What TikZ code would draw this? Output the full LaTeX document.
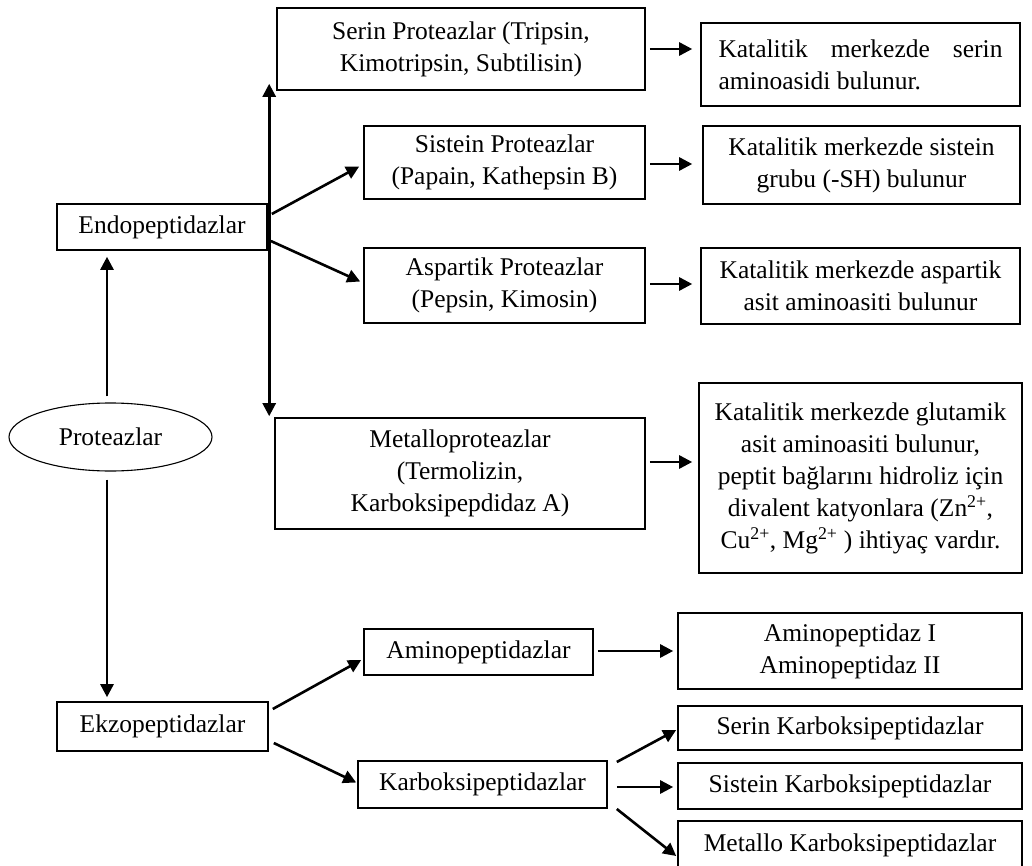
\documentclass[tikz,border=0pt]{standalone}
\usepackage{fontspec}
\setmainfont{Liberation Serif}
\usetikzlibrary{arrows.meta,calc,shapes.geometric}
\begin{document}
\begin{tikzpicture}[x=1pt,y=-1pt,
  box/.style={draw,line width=1.6pt,inner sep=0pt,align=center,
    font=\fontsize{25.5}{32}\selectfont},
  oval/.style={ellipse,draw,line width=1.1pt,inner sep=0pt,
    font=\fontsize{25.5}{32}\selectfont},
  arr/.style={line width=2.6pt,-{Triangle[length=13pt,width=13pt]}},
  darr/.style={line width=2.6pt,{Triangle[length=13pt,width=13pt]}-{Triangle[length=13pt,width=13pt]}}]
\useasboundingbox (0,0) rectangle (1032,866);
\clip (0,0) rectangle (1032,866);
\fill[white] (0,0) rectangle (1032,866);

\node[box,minimum width=368pt,minimum height=82pt] (serin) at (461,49)
  {Serin Proteazlar (Tripsin,\\Kimotripsin, Subtilisin)};
\node[box,minimum width=319pt,minimum height=83pt,text width=284pt,align=justify] (kserin) at (860.5,64.5)
  {Katalitik merkezde serin\linebreak aminoasidi bulunur.};
\node[box,minimum width=281pt,minimum height=73pt] (sist) at (504.5,162.5)
  {Sistein Proteazlar\\(Papain, Kathepsin B)};
\node[box,minimum width=317pt,minimum height=78pt] (ksist) at (861.5,165)
  {Katalitik merkezde sistein\\grubu (-SH) bulunur};
\node[box,minimum width=210pt,minimum height=46pt] (endo) at (162,227)
  {Endopeptidazlar};
\node[box,minimum width=281pt,minimum height=75pt] (asp) at (504.5,285.5)
  {Aspartik Proteazlar\\(Pepsin, Kimosin)};
\node[box,minimum width=319pt,minimum height=76pt] (kasp) at (860.5,286)
  {Katalitik merkezde aspartik\\asit aminoasiti bulunur};
\node[oval,minimum width=203pt,minimum height=68pt] (prot) at (110.5,437)
  {Proteazlar};
\node[box,minimum width=370pt,minimum height=111pt] (metal) at (460,473.5)
  {Metalloproteazlar\\(Termolizin,\\Karboksipepdidaz A)};
\node[box,minimum width=323pt,minimum height=190pt] (kglu) at (860.5,478)
  {Katalitik merkezde glutamik\\asit aminoasiti bulunur,\\peptit bağlarını hidroliz için\\divalent katyonlara (Zn\textsuperscript{2+},\\Cu\textsuperscript{2+}, Mg\textsuperscript{2+} ) ihtiyaç vardır.};
\node[box,minimum width=229pt,minimum height=46pt] (amino) at (478.5,652)
  {Aminopeptidazlar};
\node[box,minimum width=344pt,minimum height=76pt] (kamino) at (850,651)
  {Aminopeptidaz I\\Aminopeptidaz II};
\node[box,minimum width=211pt,minimum height=49pt] (ekzo) at (162.5,726.5)
  {Ekzopeptidazlar};
\node[box,minimum width=249pt,minimum height=47pt] (karbo) at (482.5,784.5)
  {Karboksipeptidazlar};
\node[box,minimum width=344pt,minimum height=44pt] (serk) at (850,728)
  {Serin Karboksipeptidazlar};
\node[box,minimum width=344pt,minimum height=46pt] (sisk) at (850,786)
  {Sistein Karboksipeptidazlar};
\node[box,minimum width=344pt,minimum height=48pt] (metk) at (850,845)
  {Metallo Karboksipeptidazlar};

\draw[arr] ($(prot.north)+(-3.5,-6)$) -- ($(endo.south)+(-55,6)$);
\draw[arr] ($(prot.south)+(-3.5,8)$) -- ($(ekzo.north)+(-55.5,-4)$);
\draw[darr] ($(serin.south west)+(-7,-7)$) -- ($(metal.north west)+(-5,-1)$);
\draw[arr] ($(endo.east)+(4,-13)$) -- ($(sist.west)+(-4,4)$);
\draw[arr] ($(endo.east)+(3,14)$) -- ($(asp.west)+(-3,-4)$);
\draw[arr] ($(serin.east)+(4,0)$) -- ($(serin.east -| kserin.west)+(-8,0)$);
\draw[arr] ($(sist.east)+(4,1.5)$) -- ($(sist.east -| ksist.west)+(-10,1.5)$);
\draw[arr] ($(asp.east)+(4,-1.5)$) -- ($(asp.east -| kasp.west)+(-8,-1.5)$);
\draw[arr] ($(metal.east)+(4,-11.5)$) -- ($(metal.east -| kglu.west)+(-6,-11.5)$);
\draw[arr] ($(ekzo.east)+(4,-17.5)$) -- ($(amino.west)+(-2,8)$);
\draw[arr] ($(ekzo.east)+(5,16.5)$) -- ($(karbo.west)+(-1,-2)$);
\draw[arr] ($(amino.east)+(4,-1)$) -- ($(amino.east -| kamino.west)+(-4,-1)$);
\draw[arr] ($(karbo.east)+(9,-22.5)$) -- ($(serk.west)+(-1,2)$);
\draw[arr] ($(karbo.east)+(9,2.5)$) -- ($(karbo.east -| sisk.west)+(-4,2.5)$);
\draw[arr] ($(karbo.east)+(9,24.5)$) -- ($(metk.west)+(-1,11)$);
\end{tikzpicture}
\end{document}
